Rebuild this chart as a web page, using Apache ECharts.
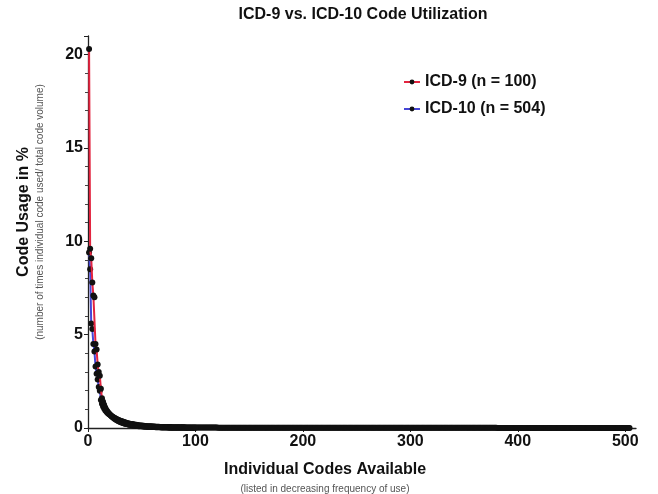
<!DOCTYPE html>
<html>
<head>
<meta charset="utf-8">
<script src="https://cdn.jsdelivr.net/npm/echarts@6/dist/echarts.min.js"></script>
<style>
html,body{margin:0;padding:0;background:#fff;}
#main{width:658px;height:494px;}
</style>
</head>
<body>
<div id="main"></div>
<script>
// Titles / labels
var chartTitle = "ICD-9 vs. ICD-10 Code Utilization";
var yTitle = "Code Usage in %";
var ySubtitle = "(number of times individual code used/ total code volume)";
var xTitle = "Individual Codes Available";
var xSubtitle = "(listed in decreasing frequency of use)";
var seriesNames = ["ICD-9 (n = 100)", "ICD-10 (n = 504)"];

// ICD-9 code usage (%), codes 1..100 in decreasing frequency
var icd9 = [
  20.3,9.6,9.1,7.8,7.1,7.0,4.5,4.2,3.4,3.0,
  2.8,2.1,1.6,1.4,1.25,1.1,0.98,0.9,0.82,0.75,
  0.68,0.62,0.57,0.52,0.48,0.44,0.41,0.38,0.35,0.32,
  0.30,0.28,0.26,0.24,0.22,0.21,0.20,0.18,0.17,0.16,
  0.15,0.14,0.13,0.12,0.12,0.11,0.10,0.10,0.09,0.09,
  0.08,0.08,0.07,0.07,0.07,0.06,0.06,0.06,0.05,0.05,
  0.05,0.05,0.04,0.04,0.04,0.04,0.04,0.03,0.03,0.03,
  0.03,0.03,0.03,0.03,0.02,0.02,0.02,0.02,0.02,0.02,
  0.02,0.02,0.02,0.02,0.01,0.01,0.01,0.01,0.01,0.01,
  0.01,0.01,0.01,0.01,0.01,0.01,0.01,0.01,0.01,0.01
];

// ICD-10 code usage (%), codes 1..504 in decreasing frequency
var icd10 = [
  9.4,8.5,5.6,5.3,4.5,4.1,3.3,2.9,2.6,2.2,
  2.0,1.5,1.3,1.15,1.05,0.95,0.88,0.82,0.77,0.72,
  0.68,0.64,0.60,0.56,0.53,0.50,0.47,0.44,0.41,0.39,
  0.37,0.35,0.33,0.31,0.29,0.27,0.26,0.24,0.23,0.22,
  0.21,0.20,0.19,0.18,0.17,0.16,0.15,0.14,0.14,0.13,
  0.12,0.12,0.11,0.11,0.10,0.10,0.09,0.09,0.09,0.08,
  0.08,0.08,0.07,0.07,0.07,0.07,0.06,0.06,0.06,0.06,
  0.06,0.05,0.05,0.05,0.05,0.05,0.05,0.04,0.04,0.04,
  0.04,0.04,0.04,0.04,0.04,0.04,0.04,0.04,0.04,0.04,
  0.03,0.03,0.03,0.03,0.03,0.03,0.03,0.03,0.03,0.03,
  0.03,0.03,0.03,0.03,0.03,0.03,0.03,0.03,0.03,0.03,0.03,0.03,0.03,0.03,0.03,0.03,0.03,0.03,0.03,0.03,
  0.02,0.02,0.02,0.02,0.02,0.02,0.02,0.02,0.02,0.02,0.02,0.02,0.02,0.02,0.02,0.02,0.02,0.02,0.02,0.02,
  0.02,0.02,0.02,0.02,0.02,0.02,0.02,0.02,0.02,0.02,0.02,0.02,0.02,0.02,0.02,0.02,0.02,0.02,0.02,0.02,
  0.02,0.02,0.02,0.02,0.02,0.02,0.02,0.02,0.02,0.02,0.02,0.02,0.02,0.02,0.02,0.02,0.02,0.02,0.02,0.02,
  0.015,0.015,0.015,0.015,0.015,0.015,0.015,0.015,0.015,0.015,0.015,0.015,0.015,0.015,0.015,0.015,0.015,0.015,0.015,0.015,
  0.015,0.015,0.015,0.015,0.015,0.015,0.015,0.015,0.015,0.015,0.015,0.015,0.015,0.015,0.015,0.015,0.015,0.015,0.015,0.015,
  0.015,0.015,0.015,0.015,0.015,0.015,0.015,0.015,0.015,0.015,0.015,0.015,0.015,0.015,0.015,0.015,0.015,0.015,0.015,0.015,
  0.015,0.015,0.015,0.015,0.015,0.015,0.015,0.015,0.015,0.015,0.015,0.015,0.015,0.015,0.015,0.015,0.015,0.015,0.015,0.015,
  0.01,0.01,0.01,0.01,0.01,0.01,0.01,0.01,0.01,0.01,0.01,0.01,0.01,0.01,0.01,0.01,0.01,0.01,0.01,0.01,
  0.01,0.01,0.01,0.01,0.01,0.01,0.01,0.01,0.01,0.01,0.01,0.01,0.01,0.01,0.01,0.01,0.01,0.01,0.01,0.01,
  0.01,0.01,0.01,0.01,0.01,0.01,0.01,0.01,0.01,0.01,0.01,0.01,0.01,0.01,0.01,0.01,0.01,0.01,0.01,0.01,
  0.01,0.01,0.01,0.01,0.01,0.01,0.01,0.01,0.01,0.01,0.01,0.01,0.01,0.01,0.01,0.01,0.01,0.01,0.01,0.01,
  0.01,0.01,0.01,0.01,0.01,0.01,0.01,0.01,0.01,0.01,0.01,0.01,0.01,0.01,0.01,0.01,0.01,0.01,0.01,0.01,
  0.01,0.01,0.01,0.01,0.01,0.01,0.01,0.01,0.01,0.01,0.01,0.01,0.01,0.01,0.01,0.01,0.01,0.01,0.01,0.01,
  0.005,0.005,0.005,0.005,0.005,0.005,0.005,0.005,0.005,0.005,0.005,0.005,0.005,0.005,0.005,0.005,0.005,0.005,0.005,0.005,
  0.005,0.005,0.005,0.005,0.005,0.005,0.005,0.005,0.005,0.005,0.005,0.005,0.005,0.005,0.005,0.005,0.005,0.005,0.005,0.005,
  0.005,0.005,0.005,0.005,0.005,0.005,0.005,0.005,0.005,0.005,0.005,0.005,0.005,0.005,0.005,0.005,0.005,0.005,0.005,0.005,
  0.005,0.005,0.005,0.005,0.005,0.005,0.005,0.005,0.005,0.005,0.005,0.005,0.005,0.005,0.005,0.005,0.005,0.005,0.005,0.005,
  0.005,0.005,0.005,0.005,0.005,0.005,0.005,0.005,0.005,0.005,0.005,0.005,0.005,0.005,0.005,0.005,0.005,0.005,0.005,0.005,
  0.005,0.005,0.005,0.005,0.005,0.005,0.005,0.005,0.005,0.005,0.005,0.005,0.005,0.005,0.005,0.005,0.005,0.005,0.005,0.005,
  0.005,0.005,0.005,0.005
];

// Axis settings
var yMin = 0, yMax = 21, yInterval = 5;
var xMin = 0, xMax = 510, xInterval = 100;

function toPairs(arr) {
  return arr.map(function (v, i) { return [i + 1, v]; });
}

var FONT = "'Liberation Sans', Arial, Helvetica, sans-serif";
var chart = echarts.init(document.getElementById('main'), null, {renderer: 'canvas'});

var option = {
  backgroundColor: '#ffffff',
  animation: false,
  grid: {left: 88, right: 22, top: 36, bottom: 66, containLabel: false},
  legend: {
    orient: 'vertical',
    left: 398,
    top: 69,
    itemWidth: 16,
    itemHeight: 6,
    itemGap: 11,
    textStyle: {fontFamily: FONT, fontWeight: 'bold', fontSize: 16, color: '#111'},
    data: seriesNames
  },
  xAxis: {
    type: 'value',
    min: xMin, max: xMax, interval: xInterval,
    axisLine: {show: true, onZero: false, lineStyle: {color: '#222', width: 1.3}},
    axisTick: {show: true, length: 4, lineStyle: {color: '#222'}},
    axisLabel: {showMaxLabel: false, margin: 6, fontFamily: FONT, fontWeight: 'bold', fontSize: 16, color: '#111'},
    splitLine: {show: false}
  },
  yAxis: {
    type: 'value',
    min: yMin, max: yMax, interval: yInterval,
    axisLine: {show: true, onZero: false, lineStyle: {color: '#222', width: 1.3}},
    axisTick: {show: true, length: 4, lineStyle: {color: '#222'}},
    minorTick: {show: true, splitNumber: 5, length: 3, lineStyle: {color: '#444'}},
    axisLabel: {showMaxLabel: false, margin: 5, fontFamily: FONT, fontWeight: 'bold', fontSize: 16, color: '#111'},
    splitLine: {show: false}
  },
  series: [
    {
      name: seriesNames[1],
      type: 'line',
      data: toPairs(icd10),
      symbol: 'circle',
      symbolSize: 6,
      showAllSymbol: true,
      lineStyle: {color: '#4646d6', width: 2},
      itemStyle: {color: '#111'},
      z: 2
    },
    {
      name: seriesNames[0],
      type: 'line',
      data: toPairs(icd9),
      symbol: 'circle',
      symbolSize: 6,
      showAllSymbol: true,
      lineStyle: {color: '#e3243f', width: 2},
      itemStyle: {color: '#111'},
      z: 3
    }
  ],
  graphic: [
    {type: 'text', x: 363, y: 15,
      style: {text: chartTitle, font: "bold 16px " + FONT, fill: '#111', textAlign: 'center', textVerticalAlign: 'middle'}},
    {type: 'text', x: 24, y: 212, rotation: Math.PI / 2,
      style: {text: yTitle, font: "bold 16px " + FONT, fill: '#111', textAlign: 'center', textVerticalAlign: 'middle'}},
    {type: 'text', x: 40, y: 212, rotation: Math.PI / 2,
      style: {text: ySubtitle, font: "10px " + FONT, fill: '#555', textAlign: 'center', textVerticalAlign: 'middle'}},
    {type: 'text', x: 325, y: 470,
      style: {text: xTitle, font: "bold 16px " + FONT, fill: '#111', textAlign: 'center', textVerticalAlign: 'middle'}},
    {type: 'text', x: 325, y: 489,
      style: {text: xSubtitle, font: "10px " + FONT, fill: '#555', textAlign: 'center', textVerticalAlign: 'middle'}}
  ]
};
chart.setOption(option);
</script>
</body>
</html>
